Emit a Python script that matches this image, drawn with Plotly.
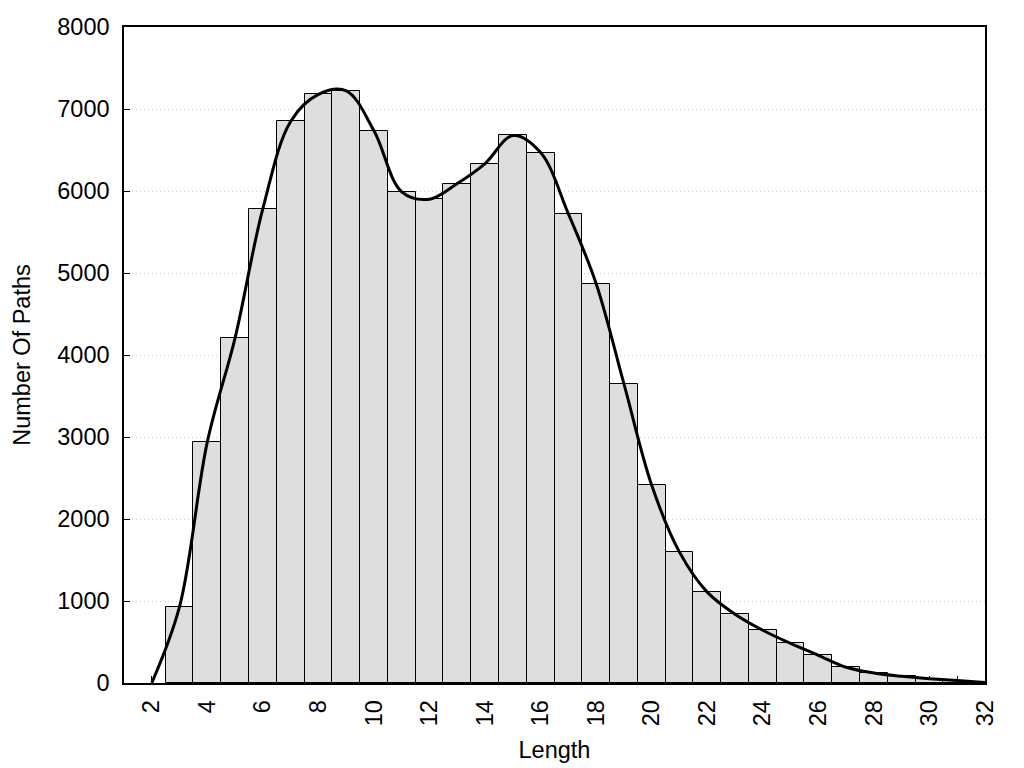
import plotly.graph_objects as go

# Histogram data (bar centres and counts)
lengths = list(range(3, 32))
counts = [930, 2940, 4210, 5785, 6848, 7178, 7222, 6734, 5990, 5900,
          6091, 6335, 6677, 6469, 5722, 4870, 3648, 2412, 1596, 1108,
          839, 643, 482, 338, 192, 122, 82, 53, 30]

# Smoothed curve support points
curve_x = [2] + lengths + [32]
curve_y = [0] + counts + [5]

x_tickvals = list(range(2, 33))
x_ticktext = [str(v) if v % 2 == 0 else "" for v in x_tickvals]
y_tickvals = list(range(0, 8001, 1000))

FONT = "Liberation Sans, Arial, sans-serif"
FS = 23.5

fig = go.Figure()
fig.add_trace(go.Bar(
    x=lengths, y=counts, width=1.0,
    marker=dict(color="#dedede", line=dict(color="black", width=1)),
    showlegend=False, hoverinfo="x+y",
))
fig.add_trace(go.Scatter(
    x=curve_x, y=curve_y, mode="lines",
    line=dict(color="black", width=3, shape="spline", smoothing=1.0),
    showlegend=False,
))

fig.update_layout(
    width=1024, height=768,
    margin=dict(l=116, r=47, t=19, b=93, autoexpand=False),
    paper_bgcolor="white", plot_bgcolor="white",
    font=dict(family=FONT, size=FS, color="black"),
    bargap=0,
)
fig.update_xaxes(
    range=[1, 32], tickmode="array", tickvals=x_tickvals, ticktext=x_ticktext,
    tickangle=-90, ticks="inside", ticklen=7, tickwidth=1, tickcolor="black",
    showline=True, linecolor="black", linewidth=1.5, mirror=True,
    showgrid=False, zeroline=False, layer="below traces",
    title=dict(text="Length", standoff=16, font=dict(size=FS)),
    tickfont=dict(size=FS), ticklabelstandoff=6, automargin=False,
)
fig.update_yaxes(
    range=[0, 8000], tickmode="array", tickvals=y_tickvals,
    ticks="inside", ticklen=6, tickwidth=1, tickcolor="black",
    showline=True, linecolor="black", linewidth=1.5, mirror=True,
    showgrid=True, gridcolor="#c8c8c8", griddash="1px,3px", gridwidth=1,
    zeroline=False,
    title=dict(text="Number Of Paths", standoff=20, font=dict(size=FS)),
    tickfont=dict(size=FS), ticklabelstandoff=8, automargin=False,
)

fig.write_html("out.html")
